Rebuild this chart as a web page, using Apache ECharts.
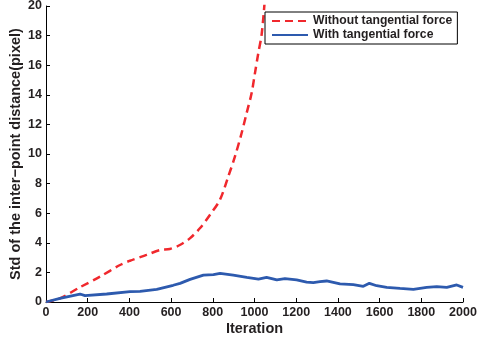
<!DOCTYPE html>
<html>
<head>
<meta charset="utf-8">
<script src="https://cdn.jsdelivr.net/npm/echarts@6/dist/echarts.min.js"></script>
<style>
  html, body { margin: 0; padding: 0; background: #fff; }
  #chart { width: 477px; height: 339px; }
</style>
</head>
<body>
<div id="chart"></div>
<script>
// iteration / std values
const withoutIter = [0, 67, 163, 259, 355, 403, 482, 546, 594, 642, 690, 738, 786, 834, 874, 906, 938, 962, 986, 1002, 1018, 1034, 1050];
const withoutStd = [0, 0.25, 1.0, 1.71, 2.5, 2.79, 3.18, 3.51, 3.58, 3.85, 4.3, 4.98, 5.88, 6.9, 8.47, 9.82, 11.4, 12.75, 14.1, 15.45, 16.8, 18.04, 20.5];

const withIter = [0, 67, 163, 187, 291, 403, 451, 531, 610, 643, 691, 755, 803, 835, 898, 963, 1019, 1058, 1107, 1146, 1202, 1250, 1282, 1314, 1346, 1378, 1410, 1474, 1522, 1551, 1586, 1634, 1698, 1762, 1826, 1874, 1922, 1970, 2000];
const withStd = [0, 0.25, 0.54, 0.43, 0.54, 0.70, 0.72, 0.86, 1.13, 1.26, 1.53, 1.82, 1.85, 1.94, 1.82, 1.67, 1.55, 1.67, 1.49, 1.58, 1.49, 1.35, 1.31, 1.37, 1.42, 1.33, 1.22, 1.17, 1.06, 1.26, 1.1, 0.99, 0.92, 0.86, 0.99, 1.04, 0.99, 1.15, 0.99];

const xTicks = [0, 2000, 200];
const yTicks = [0, 20, 2];

const zip = (a, b) => a.map((v, i) => [v, b[i]]);

const textColor = '#231f20';
const font = 'Liberation Sans';

const chart = echarts.init(document.getElementById('chart'));
chart.setOption({
  animation: false,
  grid: { left: 46, right: 14, top: 6, bottom: 37, containLabel: false, outerBoundsMode: 'none' },
  legend: {
    orient: 'vertical',
    left: 265,
    top: 12,
    padding: [3, 5, 3, 6],
    itemWidth: 36,
    itemHeight: 12,
    itemGap: 2,
    borderColor: '#000',
    borderWidth: 1,
    backgroundColor: '#fff',
    itemStyle: { opacity: 0 },
    textStyle: { fontFamily: font, fontWeight: 'bold', fontSize: 12.2, color: textColor },
    data: ['Without tangential force', 'With tangential force']
  },
  xAxis: {
    type: 'value',
    min: xTicks[0],
    max: xTicks[1],
    interval: xTicks[2],
    name: 'Iteration',
    nameLocation: 'middle',
    nameGap: 19,
    nameMoveOverlap: false,
    nameTextStyle: { fontFamily: font, fontWeight: 'bold', fontSize: 14.5, color: textColor },
    axisLine: { lineStyle: { color: '#000', width: 1 } },
    axisTick: { inside: true, length: 4, lineStyle: { color: '#000' } },
    axisLabel: {
      fontFamily: font, fontWeight: 'bold', fontSize: 12.5, color: textColor, margin: 4,
      formatter: v => String(v)
    },
    splitLine: { show: false }
  },
  yAxis: {
    type: 'value',
    min: yTicks[0],
    max: yTicks[1],
    interval: yTicks[2],
    name: 'Std of the inter\u2212point distance(pixel)',
    nameLocation: 'middle',
    nameGap: 23,
    nameMoveOverlap: false,
    nameTextStyle: { fontFamily: font, fontWeight: 'bold', fontSize: 14.5, color: textColor },
    axisLine: { show: true, lineStyle: { color: '#000', width: 1 } },
    axisTick: { show: true, inside: true, length: 4, lineStyle: { color: '#000' } },
    axisLabel: { fontFamily: font, fontWeight: 'bold', fontSize: 12.5, color: textColor, margin: 4 },
    splitLine: { show: false }
  },
  series: [
    {
      name: 'Without tangential force',
      type: 'line',
      symbol: 'none',
      smooth: 0.3,
      clip: true,
      data: zip(withoutIter, withoutStd),
      lineStyle: { color: '#f0282d', width: 2.5, type: [8, 5] },
      itemStyle: { color: '#f0282d' }
    },
    {
      name: 'With tangential force',
      type: 'line',
      symbol: 'none',
      data: zip(withIter, withStd),
      lineStyle: { color: '#2d5aae', width: 2.8 },
      itemStyle: { color: '#2d5aae' }
    }
  ]
});
</script>
</body>
</html>
